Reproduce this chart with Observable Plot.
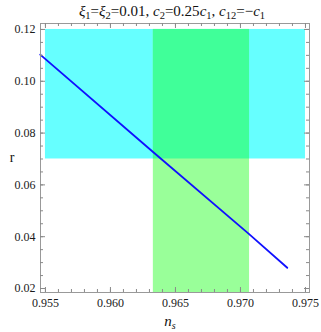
<!DOCTYPE html>
<html><head><meta charset="utf-8">
<script src="https://cdn.jsdelivr.net/npm/d3@7"></script>
<script src="https://cdn.jsdelivr.net/npm/@observablehq/plot@0.6"></script>
<style>body{margin:0;background:#fff}</style>
</head><body><div id="chart"></div>
<script>
const xDomain = [0.95462, 0.97531];
const yDomain = [0.01846, 0.1223];
const xTicks = [0.955, 0.960, 0.965, 0.970, 0.975];
const yTicks = [0.02, 0.04, 0.06, 0.08, 0.10, 0.12];
const xMinor = d3.range(0.955, 0.9755, 0.001);
const yMinor = d3.range(0.02, 0.1205, 0.005);
const nsValues = [0.9546, 0.9633, 0.9706, 0.9736];
const rValues  = [0.1103, 0.0726, 0.0413, 0.0280];
const cyanBox  = {x1: 0.955, x2: 0.975, y1: 0.07, y2: 0.12};
const greenBand = {x1: 0.9633, x2: 0.9707, y1: 0.01846, y2: 0.12};
const overlap = {x1: 0.9633, x2: 0.9707, y1: 0.07, y2: 0.12};

const W = 321, H = 332, mt = 23, mb = 40, ml = 40, mr = 12;
const fh = H - mt - mb, fw = W - ml - mr;
const line = nsValues.map((x, i) => ({x, y: rValues[i]}));
const tc = "#8a8a8a";
const font = "Liberation Serif";

const svg = Plot.plot({
  width: W, height: H,
  marginTop: mt, marginBottom: mb, marginLeft: ml, marginRight: mr,
  x: {domain: xDomain},
  y: {domain: yDomain},
  style: {fontFamily: font, fontSize: "12px", color: "#1a1a1a", background: "#fff"},
  marks: [
    Plot.rect([cyanBox], {x1: "x1", x2: "x2", y1: "y1", y2: "y2", fill: "#66ffff"}),
    Plot.rect([greenBand], {x1: "x1", x2: "x2", y1: "y1", y2: "y2", fill: "#99ff99"}),
    Plot.rect([overlap], {x1: "x1", x2: "x2", y1: "y1", y2: "y2", fill: "#40ff99"}),
    Plot.line(line, {x: "x", y: "y", stroke: "#1010ff", strokeWidth: 1.8}),
    Plot.frame({stroke: "#999"}),
    Plot.tickX(xMinor, {x: d => d, stroke: tc, insetTop: fh - 3}),
    Plot.tickX(xMinor, {x: d => d, stroke: tc, insetBottom: fh - 3}),
    Plot.tickX(xTicks, {x: d => d, stroke: tc, insetTop: fh - 5}),
    Plot.tickX(xTicks, {x: d => d, stroke: tc, insetBottom: fh - 5}),
    Plot.tickY(yMinor, {y: d => d, stroke: tc, insetRight: fw - 3}),
    Plot.tickY(yMinor, {y: d => d, stroke: tc, insetLeft: fw - 3}),
    Plot.tickY(yTicks, {y: d => d, stroke: tc, insetRight: fw - 5}),
    Plot.tickY(yTicks, {y: d => d, stroke: tc, insetLeft: fw - 5}),
    Plot.axisX({ticks: xTicks, tickSize: 0, tickPadding: 6, tickFormat: d3.format(".3f"), label: null}),
    Plot.axisY({ticks: yTicks, tickSize: 0, tickPadding: 5, tickFormat: d3.format(".2f"), label: null})
  ]
});
document.getElementById("chart").appendChild(svg);

const s = d3.select(svg);
const t = s.append("text").attr("x", 172).attr("y", 16).attr("text-anchor", "middle")
  .attr("font-family", font).attr("font-size", 15).attr("fill", "#111");
const parts = [["ξ","i"],["1","s"],["=",""],["ξ","i"],["2","s"],["=0.01, ",""],["c","i"],["2","s"],["=0.25",""],["c","i"],["1","s"],[", ",""],["c","i"],["12","s"],["=−",""],["c","i"],["1","s"]];
for (const [txt, k] of parts) {
  const sp = t.append("tspan").text(txt);
  if (k === "i") sp.attr("font-style", "italic");
  if (k === "s") sp.attr("font-size", 10.5).attr("baseline-shift", "-25%");
}
s.append("text").attr("x", 12).attr("y", 162).attr("text-anchor", "middle")
  .attr("font-family", font).attr("font-size", 14).attr("fill", "#111").text("r");
const nl = s.append("text").attr("x", 170).attr("y", 326).attr("text-anchor", "middle")
  .attr("font-family", font).attr("font-size", 15).attr("fill", "#111");
nl.append("tspan").attr("font-style", "italic").text("n");
nl.append("tspan").attr("font-style", "italic").attr("font-size", 10).attr("baseline-shift", "-25%").text("s");
</script></body></html>
